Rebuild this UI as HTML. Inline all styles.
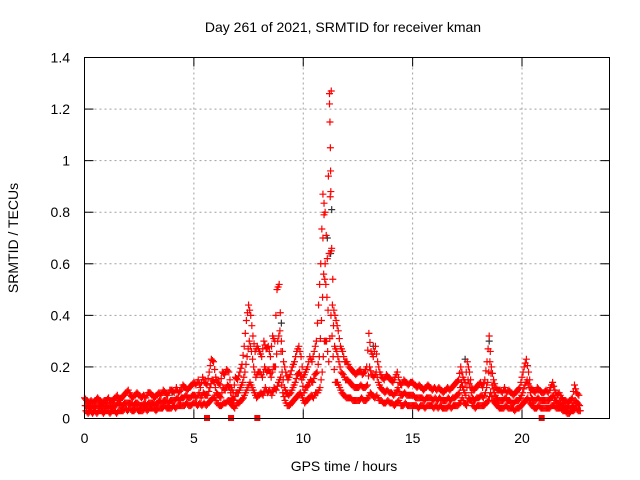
<!DOCTYPE html>
<html><head><meta charset="utf-8"><style>
html,body{margin:0;padding:0;background:#fff}
svg{display:block;font-family:"Liberation Sans",sans-serif}
</style></head><body>
<svg id="chart" width="640" height="480" viewBox="0 0 640 480" xmlns="http://www.w3.org/2000/svg">
<rect width="640" height="480" fill="#fff"/>
<text x="343" y="32" font-size="14" text-anchor="middle">Day 261 of 2021, SRMTID for receiver kman</text>
<text x="344" y="471" font-size="14" text-anchor="middle">GPS time / hours</text>
<text transform="translate(18,238) rotate(-90)" font-size="14" text-anchor="middle">SRMTID / TECUs</text>
<g id="grid"></g>
<g id="axes"></g>
<g id="marks"></g>
<rect x="84.5" y="57.5" width="525" height="361" fill="none" stroke="#000" stroke-width="1"/>
</svg>
<script>
const xTicks=[0,5,10,15,20];
const yTicks=[0,0.2,0.4,0.6,0.8,1,1.2,1.4];
const yTickLabels=["0","0.2","0.4","0.6","0.8","1","1.2","1.4"];
const tStart=0, tStep=0.1;
const hiVals=[.08,.07,.06,.07,.06,.07,.08,.07,.06,.07,
.07,.08,.06,.07,.08,.09,.07,.08,.09,.10,
.11,.09,.08,.09,.10,.09,.08,.09,.08,.10,
.10,.09,.08,.09,.10,.09,.11,.10,.09,.11,
.11,.10,.12,.10,.11,.13,.12,.11,.12,.13,
.14,.13,.15,.12,.16,.14,.13,.18,.23,.22,
.16,.14,.13,.18,.17,.19,.18,.12,.10,.16,
.15,.18,.21,.28,.38,.44,.40,.32,.26,.28,
.26,.24,.30,.27,.28,.24,.32,.30,.50,.52,
.30,.22,.18,.15,.17,.20,.22,.26,.28,.24,
.16,.18,.20,.24,.22,.26,.30,.44,.60,.87,
.80,.62,1.26,.66,.42,.38,.34,.28,.26,.22,
.22,.20,.19,.18,.17,.18,.19,.17,.18,.20,
.33,.26,.24,.28,.22,.18,.16,.15,.17,.16,
.15,.14,.16,.18,.14,.13,.15,.14,.13,.14,
.14,.13,.12,.13,.12,.11,.12,.13,.12,.11,
.12,.11,.12,.11,.10,.11,.12,.11,.12,.13,
.14,.15,.20,.16,.14,.22,.18,.12,.11,.12,
.13,.14,.12,.15,.22,.32,.20,.15,.12,.11,
.11,.10,.12,.10,.11,.10,.09,.10,.11,.12,
.16,.20,.23,.18,.12,.11,.10,.12,.11,.10,
.10,.11,.10,.12,.14,.11,.09,.10,.08,.07,
.07,.06,.07,.08,.13,.10,.09];
const midVals=[.05,.05,.04,.05,.04,.05,.05,.05,.04,.05,
.05,.05,.04,.05,.05,.06,.05,.05,.06,.06,
.06,.06,.05,.06,.06,.05,.05,.06,.05,.06,
.06,.06,.05,.06,.07,.06,.07,.07,.06,.07,
.07,.07,.08,.07,.08,.08,.09,.08,.08,.09,
.09,.08,.10,.08,.10,.09,.09,.12,.15,.14,
.10,.09,.08,.12,.11,.13,.12,.08,.07,.10,
.10,.12,.14,.18,.24,.30,.26,.20,.16,.18,
.18,.16,.20,.18,.19,.16,.20,.20,.30,.34,
.18,.12,.10,.09,.10,.12,.14,.17,.18,.15,
.10,.12,.13,.15,.14,.17,.18,.24,.38,.56,
.52,.42,.86,.44,.28,.26,.22,.18,.17,.15,
.15,.14,.13,.12,.12,.12,.13,.12,.12,.13,
.20,.17,.16,.18,.14,.12,.11,.10,.11,.10,
.10,.09,.10,.12,.09,.09,.10,.09,.09,.09,
.09,.08,.08,.08,.08,.07,.08,.08,.08,.07,
.08,.07,.08,.07,.07,.07,.08,.07,.08,.08,
.09,.10,.14,.11,.09,.15,.12,.08,.07,.08,
.08,.09,.08,.10,.14,.22,.13,.10,.08,.07,
.07,.07,.08,.07,.07,.06,.06,.07,.07,.08,
.10,.13,.15,.12,.08,.07,.07,.08,.07,.07,
.07,.07,.07,.08,.09,.07,.06,.06,.05,.05,
.04,.04,.04,.05,.07,.06,.05];
const loVals=[.03,.02,.03,.02,.03,.02,.03,.03,.02,.03,
.03,.02,.03,.03,.02,.03,.03,.03,.04,.03,
.04,.03,.03,.04,.03,.03,.03,.04,.03,.04,
.04,.04,.03,.04,.04,.04,.05,.04,.04,.04,
.05,.04,.05,.05,.05,.05,.06,.05,.05,.06,
.06,.05,.06,.05,.06,.05,.06,.07,.08,.08,
.06,.05,.05,.06,.06,.07,.06,.05,.04,.06,
.06,.07,.08,.10,.12,.14,.12,.10,.08,.09,
.10,.09,.12,.10,.11,.09,.12,.11,.14,.16,
.10,.07,.05,.05,.06,.07,.08,.09,.10,.08,
.06,.07,.08,.09,.08,.10,.10,.12,.18,.30,
.30,.22,.40,.24,.14,.14,.12,.10,.09,.08,
.08,.08,.07,.07,.07,.07,.08,.07,.07,.08,
.10,.09,.08,.09,.07,.07,.06,.06,.07,.06,
.06,.05,.06,.07,.05,.05,.06,.05,.05,.05,
.05,.05,.04,.05,.05,.04,.05,.05,.05,.04,
.05,.04,.05,.04,.04,.04,.05,.04,.05,.05,
.05,.06,.08,.06,.05,.08,.07,.05,.04,.05,
.05,.05,.05,.06,.07,.10,.07,.06,.05,.04,
.04,.04,.05,.04,.04,.04,.03,.04,.04,.05,
.06,.07,.08,.06,.05,.04,.04,.05,.04,.04,
.04,.04,.04,.05,.05,.04,.04,.04,.03,.03,
.02,.02,.03,.03,.04,.03,.03];
const peakTimes=[11.2,11.22,11.24,11.26,11.28,10.95,10.9,11.0];
const peakVals=[1.22,1.15,1.05,0.88,1.27,0.79,0.7,0.6];
const grayTimes=[11.3,11.1,11.25,17.4,18.5,4.0,9.0,13.2];
const grayVals=[0.81,0.7,0.64,0.23,0.3,0.1,0.37,0.28];
const gapTimes=[5.6,6.7,7.9,20.9];

const L=84.5,R=609.5,T=57.5,B=418.5;
const xs=v=>L+(v-0)/24*(R-L);
const ys=v=>B-(v-0)/1.4*(B-T);
const NS="http://www.w3.org/2000/svg";
const grid=document.getElementById('grid'),axes=document.getElementById('axes'),marks=document.getElementById('marks');
function mk(tag,attrs,parent){const e=document.createElementNS(NS,tag);for(const k in attrs)e.setAttribute(k,attrs[k]);parent.appendChild(e);return e;}
yTicks.forEach((v,i)=>{const y=Math.round(ys(v))+0.5-0.5;
 if(i>0&&i<yTicks.length-1){const g=mk('line',{x1:L,x2:R,y1:ys(v),y2:ys(v),stroke:'#a0a0a0','stroke-dasharray':'2,3'},grid);
 
 }
 const t1=mk('line',{x1:L,x2:L+9,y1:ys(v),y2:ys(v),stroke:'#000'},axes);
 
 
 mk('line',{x1:R-9,x2:R,y1:ys(v),y2:ys(v),stroke:'#000'},axes);
 const tx=mk('text',{x:70,y:ys(v)+5,'font-size':14,'text-anchor':'end'},axes);tx.textContent=yTickLabels[i];
 
 
});
xTicks.forEach((v,i)=>{
 if(i>0){const g=mk('line',{x1:xs(v),x2:xs(v),y1:T,y2:B,stroke:'#a0a0a0','stroke-dasharray':'2,3'},grid);
 
 }
 const t1=mk('line',{x1:xs(v),x2:xs(v),y1:B-9,y2:B,stroke:'#000'},axes);
 
 
 mk('line',{x1:xs(v),x2:xs(v),y1:T,y2:T+9,stroke:'#000'},axes);
 const tx=mk('text',{x:xs(v),y:443,'font-size':14,'text-anchor':'middle'},axes);tx.textContent=String(v);
 
 
});
function plus(t,v,color,name){const x=xs(t),y=ys(v);
 const p=mk('path',{d:`M${x-3.5},${y}H${x+3.5}M${x},${y-3.5}V${y+3.5}`,stroke:color,'stroke-width':1.2,fill:'none'},marks);
 
 }
grayTimes.forEach((t,i)=>plus(t,grayVals[i],'#333','point-black'));
const series=[[hiVals,0],[midVals,0.033],[loVals,0.066]];
series.forEach(([arr,off])=>arr.forEach((v,i)=>{
 const t=tStart+i*tStep+off;
 plus(t,v,'#f00','point-red');
 if(i+1<arr.length){plus(t+0.05,(v+arr[i+1])/2,'#f00','point-red');}
}));
peakTimes.forEach((t,i)=>plus(t,peakVals[i],'#f00','point-red-peak'));
gapTimes.forEach(t=>{const r=mk('rect',{x:xs(t)-3,y:B-3.5,width:6,height:6,fill:'#f00'},marks);
 
 });
</script>
</body></html>
